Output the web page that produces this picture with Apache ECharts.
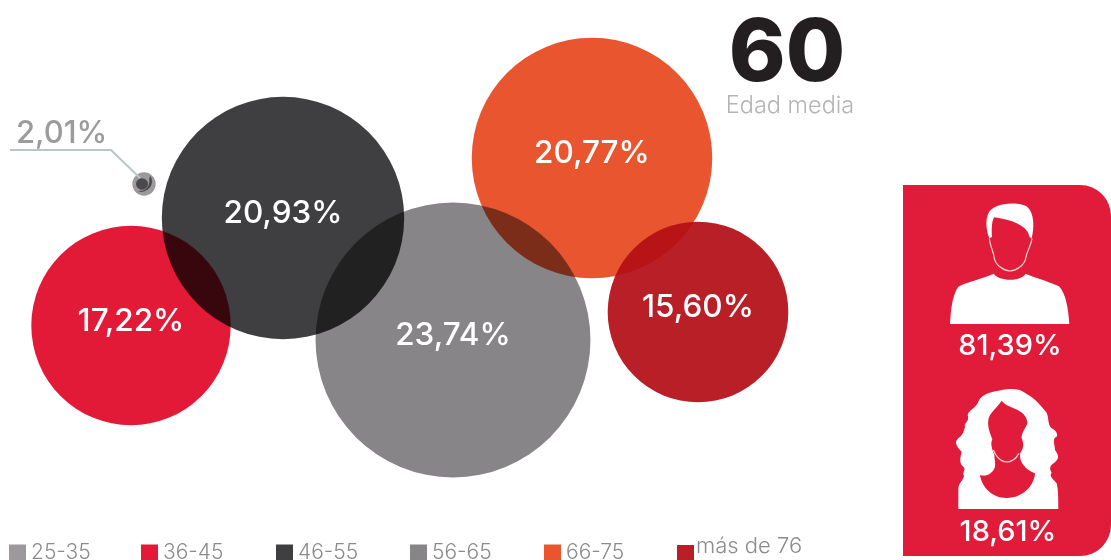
<!DOCTYPE html>
<html><head><meta charset="utf-8">
<style>html,body{margin:0;padding:0;background:#fff}#c{width:1111px;height:560px}</style>
<script src="https://cdn.jsdelivr.net/npm/echarts@6/dist/echarts.min.js"></script>
</head><body><div id="c"></div>
<script>
const ageGroups = ['25-35','36-45','46-55','56-65','66-75','más de 76'];
const shares = [2.01,17.22,20.93,23.74,20.77,15.60];
const bubbleX = [144,131,283,453,592,698];
const bubbleY = [184,325.5,218,340,158,312];
const colors = ['#9d989b','#e21a38','#3f3e40','#878587','#e8552f','#b40e16'];
const legendColors = ['#9d989b','#e21a38','#3f3e40','#878587','#e8552f','#b91f26'];
const legendLeft = [9,141,276,410,544,677];
const averageAge = '60';
const averageAgeLabel = 'Edad media';
const genderLabels = ['81,39%','18,61%'];
const fmt = v => v.toFixed(2).replace('.',',') + '%';
const FONT = 'Inter';
const SCALE = 11.58;

const series = ageGroups.map((name,i)=>({
  name, type:'scatter', z:2+i,
  blendMode:i===5?'source-over':'multiply',
  data:[[bubbleX[i],bubbleY[i],shares[i]]],
  symbol:'circle', symbolSize:d=>d[2]*SCALE,
  itemStyle:{color:colors[i],opacity:i===5?0.93:1},
  emphasis:{disabled:true},
  label:{show:false}
}));
const labelSeries = {
  name:'labels', type:'scatter', z:20, silent:true,
  data:shares.slice(1).map((v,i)=>[bubbleX[i+1],bubbleY[i+1],v]),
  symbolSize:1, itemStyle:{color:'rgba(0,0,0,0)',opacity:1},
  label:{show:true,position:'inside',offset:[0,-4],color:'#fff',fontFamily:FONT,fontWeight:500,fontSize:31.5,
    formatter:p=>fmt(p.data[2])}
};
const coreSeries = {
  name:'core', type:'scatter', z:19, silent:true,
  data:[[bubbleX[0],bubbleY[0]]],
  symbol:'path://M12 7a5 5 0 1 1 0 10a5 5 0 1 1 0-10zM19 5c3 5 1 13-8 14l-3-1c6 1 11-3 10-11z',
  symbolSize:16, itemStyle:{color:'#4a494b',opacity:1}
};

const legends = ageGroups.map((name,i)=>({
  data:[{name,itemStyle:{color:legendColors[i],opacity:1}}], left:legendLeft[i], top:i===5?535:542, padding:0, icon:'rect', itemWidth:17, itemHeight:16,
  selectedMode:false,
  formatter:i===5?(n=>n+'\n'):undefined,
  textStyle:i===5
    ?{color:'#8b8b8d',fontFamily:FONT,fontWeight:300,fontSize:22,lineHeight:14,padding:[0,0,0,-3]}
    :{color:'#8b8b8d',fontFamily:FONT,fontWeight:300,fontSize:21}
}));

const W='#fff', PANEL='#e11b3a', LINE='#fbd7d7';
const FRAME='M0 0L0 0M648 570L648 570';
const manBody='M165 447C168 400 172 360 190 335C205 325 260 312 296 296C310 318 375 322 392 296C425 310 470 322 492 334C512 355 520 400 523 447Z';
const manHair='M283 190C268 150 272 110 296 98C325 82 380 82 398 97C418 115 418 160 410 190L403 186C400 165 385 155 365 145C345 135 320 130 298 127C291 135 289 160 291 186Z';
const manFace='M283 190C285 215 295 225 298 250C302 270 325 287 345 288C365 287 388 270 392 250C396 225 408 215 411 190';
const womanHair='M190 417L190 355C192 338 205 330 207 318C200 305 215 300 205 290C192 280 195 265 200 245C190 235 180 222 184 212C190 200 205 200 210 170C205 160 225 155 218 135C220 120 245 112 250 95C260 70 295 65 320 60C345 55 375 55 395 72C420 85 435 105 455 128C462 145 458 165 470 175C480 180 490 190 485 200C470 205 480 225 480 240C490 255 495 265 478 278C465 285 462 295 470 308C460 318 478 330 485 340C490 360 490 390 490 417Z';
const womanInner='M320 92C330 105 350 112 368 120C385 128 398 145 397 160C392 175 378 190 380 205C385 215 388 232 378 245C373 255 374 270 385 285C395 298 408 306 420 310C418 345 385 384 335 384C290 384 260 350 255 315C275 322 295 308 300 290C302 278 298 268 298 255C292 240 285 222 292 208C285 190 277 170 280 150C282 130 305 115 320 92Z';
const womanChin='M295 240C300 255 315 275 335 276C352 276 365 262 372 250';

const iconParts=[
 [manBody,175,W,null],[manHair,175,W,null],[manFace,175,null,LINE],
 [womanHair,370,W,null],[womanInner,370,PANEL,null],[womanChin,370,null,LINE]
];
const iconSeries={
  type:'custom',name:'icons',z:40,silent:true,coordinateSystem:'none',data:[0],
  renderItem:()=>({type:'group',children:iconParts.map(([d,y,fill,stroke])=>({
    type:'path',
    shape:{pathData:FRAME+d,x:895,y,width:216,height:190,layout:'cover'},
    style:{fill:fill||'none',stroke:stroke||'none',lineWidth:1.2}
  }))})
};

function panelText(text,x,y,size){return {type:'text',z:30,style:{text,x,y,fill:W,font:`500 ${size}px ${FONT}`,align:'center',verticalAlign:'middle'}};}

const graphic=[
 {type:'polyline',z:5,shape:{points:[[10,150],[111,150],[140,178]]},style:{stroke:'#b9c6c9',lineWidth:2,fill:null}},
 {type:'text',z:5,style:{text:fmt(shares[0]),x:16,y:134,fill:'#9c9a9d',font:`500 31px ${FONT}`,align:'left',verticalAlign:'middle'}},
 {type:'text',z:5,style:{text:averageAge,x:787,y:55,fill:'#231f20',font:`800 86px ${FONT}`,align:'center',verticalAlign:'middle'}},
 {type:'text',z:5,style:{text:averageAgeLabel,x:790,y:106,fill:'#b4b4b4',font:`300 23.5px ${FONT}`,align:'center',verticalAlign:'middle'}},
 {type:'rect',z:25,shape:{x:903,y:185,width:208,height:371,r:[0,31,31,0]},style:{fill:PANEL}},
 panelText(genderLabels[0],1010,346,29),
 panelText(genderLabels[1],1008,532,29)
];

const chart=echarts.init(document.getElementById('c'),null,{renderer:'canvas'});
chart.setOption({
  animation:false, backgroundColor:'#fff',
  grid:{left:0,right:0,top:0,bottom:0},
  xAxis:{type:'value',min:0,max:1111,show:false},
  yAxis:{type:'value',min:0,max:560,inverse:true,show:false},
  tooltip:{show:false},
  legend:legends,
  series:[...series,coreSeries,labelSeries,iconSeries],
  graphic
});
</script></body></html>
